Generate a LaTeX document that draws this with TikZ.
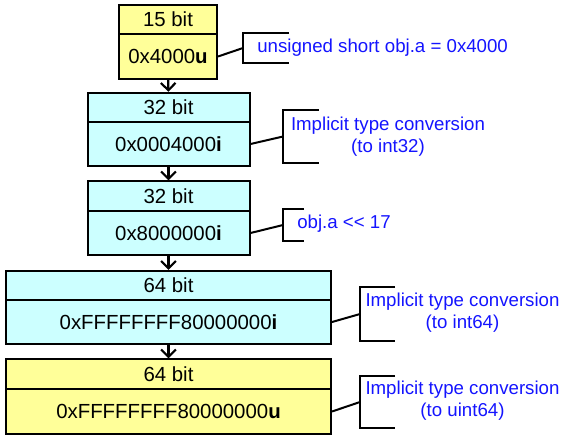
\documentclass[tikz,border=0pt]{standalone}
\usepackage{fontspec}
\setmainfont{Liberation Sans}
\usepackage{xcolor}
\usepackage{tikz}
\usetikzlibrary{arrows.meta}
\definecolor{boxyellow}{HTML}{FFFF99}
\definecolor{boxcyan}{HTML}{CCFFFF}
\definecolor{noteblue}{HTML}{1414FF}
\tikzstyle{part}=[draw,line width=1.5pt,inner sep=0pt,font=\fontsize{15.3}{18}\selectfont]
\tikzstyle{bits}=[part,minimum height=22.1pt]
\tikzstyle{val} =[part,minimum height=33.4pt]
\tikzstyle{note}=[text=noteblue,align=center,inner sep=0pt,font=\fontsize{14}{16.5}\selectfont]
\tikzstyle{brk} =[line width=1.5pt]
\tikzstyle{flow}=[line width=1.6pt,-{Straight Barb[length=5.5pt,width=11pt]}]

\begin{document}
\begin{tikzpicture}[x=.75pt,y=-.75pt]
	\useasboundingbox (0,0) rectangle (563,437);
	% the five registers
	\node[bits,fill=boxyellow,minimum width=73.5pt]  (t1) at (168,19.5)  {15 bit};
	\node[val, fill=boxyellow,minimum width=73.5pt]  (v1) at (168,56.5)  {0x4000\textbf{u}};
	\node[bits,fill=boxcyan,  minimum width=121.5pt] (t2) at (168.5,107.5) {32 bit};
	\node[val, fill=boxcyan,  minimum width=121.5pt] (v2) at (168.5,144)   {0x0004000\textbf{i}};
	\node[bits,fill=boxcyan,  minimum width=121.5pt] (t3) at (168.5,196)   {32 bit};
	\node[val, fill=boxcyan,  minimum width=121.5pt] (v3) at (168.5,233)   {0x8000000\textbf{i}};
	\node[bits,fill=boxcyan,  minimum width=243.75pt] (t4) at (168.5,285.5) {64 bit};
	\node[val, fill=boxcyan,  minimum width=243.75pt] (v4) at (168.5,322)   {0xFFFFFFFF80000000\textbf{i}};
	\node[bits,fill=boxyellow,minimum width=243.75pt] (t5) at (168.5,374)   {64 bit};
	\node[val, fill=boxyellow,minimum width=243.75pt] (v5) at (168.5,411.5) {0xFFFFFFFF80000000\textbf{u}};
	\draw[flow] (v1) -- (t2);
	\draw[flow] (v2) -- (t3);
	\draw[flow] (v3) -- (t4);
	\draw[flow] (v4) -- (t5);
	% brackets and notes
	\coordinate (c1) at (243,48);
	\coordinate (c2) at (283,136.5);
	\coordinate (c3) at (283,225);
	\coordinate (c4) at (360,314);
	\coordinate (c5) at (360,402);
	\draw[brk] (289,33) -- (243,33) -- (243,63) -- (289,63);
	\draw[brk] (319,110) -- (283,110) -- (283,163) -- (319,163);
	\draw[brk] (304,209) -- (283,209) -- (283,241) -- (304,241);
	\draw[brk] (395,287) -- (360,287) -- (360,341) -- (395,341);
	\draw[brk] (395,376) -- (360,376) -- (360,428) -- (395,428);
	\draw[brk] (v1.east) -- (c1);
	\draw[brk] (v2.east) -- (c2);
	\draw[brk] (v3.east) -- (c3);
	\draw[brk] (v4.east) -- (c4);
	\draw[brk] (v5.east) -- (c5);
	\node[note,anchor=west] (n1) at (257,48)    {unsigned short obj.a = 0x4000};
	\node[note]             (n2) at (388,136.5) {Implicit type conversion\\(to int32)};
	\node[note,anchor=west] (n3) at (297,224)   {obj.a <{}< 17};
	\node[note]             (n4) at (462.5,313) {Implicit type conversion\\(to int64)};
	\node[note]             (n5) at (462.5,401) {Implicit type conversion\\(to uint64)};
\end{tikzpicture}
\end{document}
